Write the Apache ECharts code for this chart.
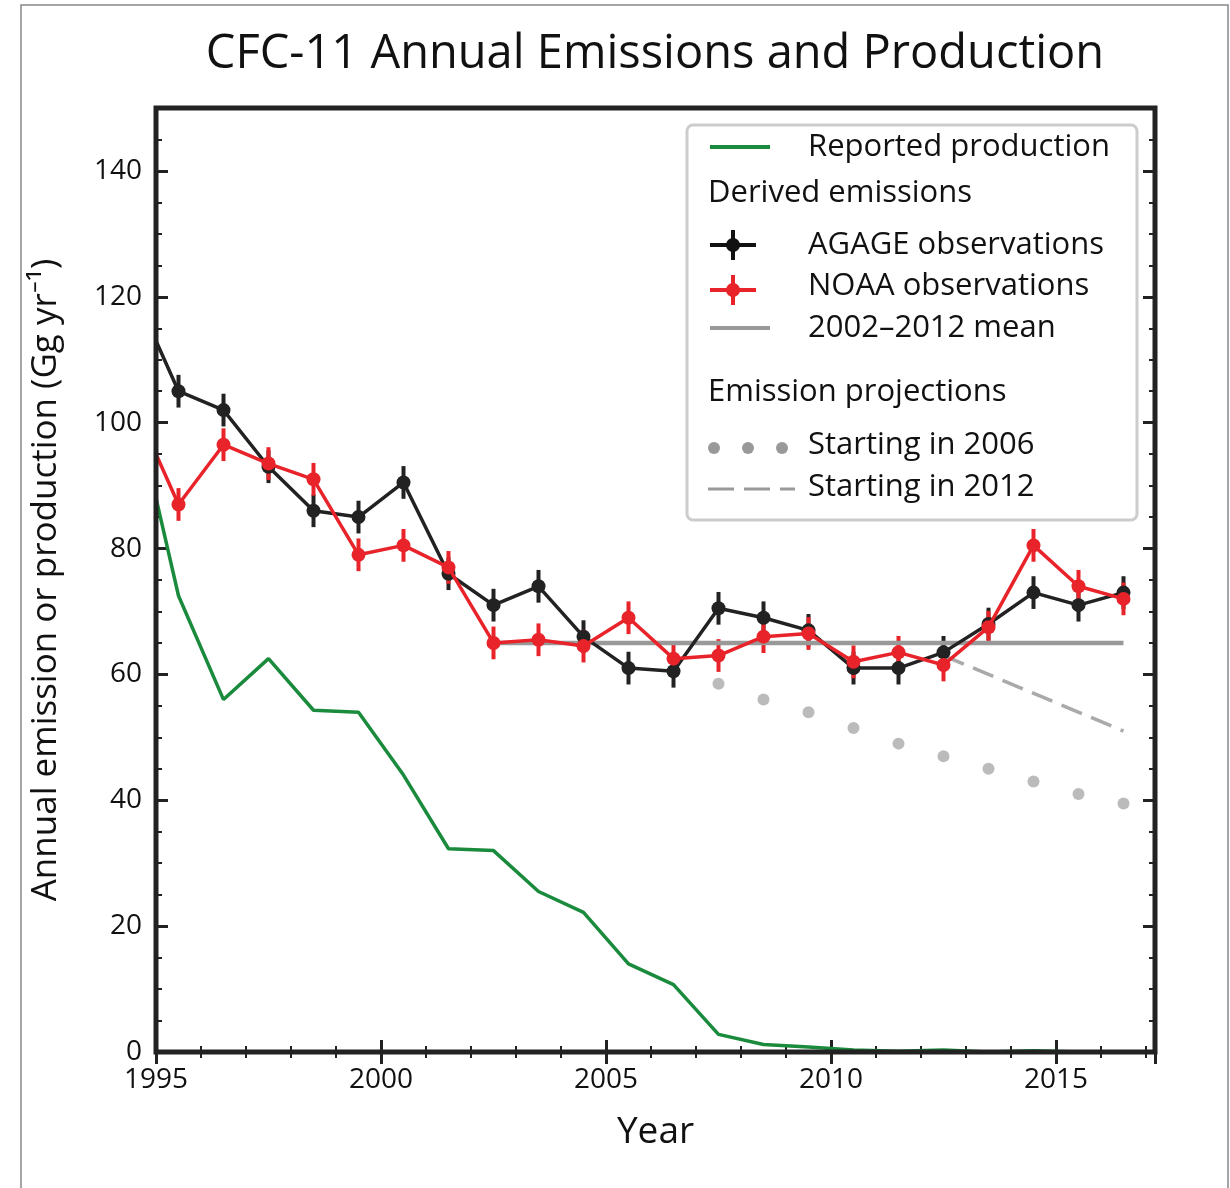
<!DOCTYPE html>
<html><head><meta charset="utf-8">
<script src="https://cdn.jsdelivr.net/npm/echarts@6/dist/echarts.min.js"></script>
<style>html,body{margin:0;padding:0;background:#fff}#c{width:1230px;height:1188px}</style>
</head><body><div id="c"></div>
<script>
// 数据
const obsYears = [1994.5,1995.5,1996.5,1997.5,1998.5,1999.5,2000.5,2001.5,2002.5,2003.5,2004.5,2005.5,2006.5,2007.5,2008.5,2009.5,2010.5,2011.5,2012.5,2013.5,2014.5,2015.5,2016.5];
const agage = [121,105,102,93,86,85,90.5,76,71,74,66,61,60.5,70.5,69,67,61,61,63.5,68,73,71,73];
const noaa  = [103,87,96.5,93.5,91,79,80.5,77,65,65.5,64.5,69,62.5,63,66,66.5,62,63.5,61.5,67.5,80.5,74,72];
const errBar = 2.6;
const prodYears = [1995,1995.5,1996.5,1997.5,1998.5,1999.5,2000.5,2001.5,2002.5,2003.5,2004.5,2005.5,2006.5,2007.5,2008.5,2009.5,2010.5,2011.5,2012.5,2013.5,2014.5,2015.5];
const production = [88,72.5,56,62.5,54.3,54,44,32.3,32,25.5,22.2,14,10.7,2.8,1.2,0.8,0.3,0.1,0.3,0,0.2,0];
const meanYears = [2002.5,2016.5];
const meanValue = 65;
const proj2006Years = [2007.5,2008.5,2009.5,2010.5,2011.5,2012.5,2013.5,2014.5,2015.5,2016.5];
const proj2006 = [58.5,56,54,51.5,49,47,45,43,41,39.5];
const proj2012Years = [2012.5,2016.5];
const proj2012 = [63,51];

const zip = (xs, ys) => xs.map((x, i) => [x, ys[i]]);
const font = 'Open Sans';

function errSeries(data, color){
  return {
    type: 'custom', data: data, z: 3, clip: true,
    renderItem: (params, api) => {
      const top = api.coord([api.value(0), api.value(1) + errBar]);
      const bot = api.coord([api.value(0), api.value(1) - errBar]);
      return { type: 'line', shape: { x1: top[0], y1: top[1], x2: bot[0], y2: bot[1] }, style: { stroke: color, lineWidth: 4 } };
    }
  };
}

const chart = echarts.init(document.getElementById('c'));
const baseAxis = { axisLine: { show: false }, splitLine: { show: false },
  axisTick: { inside: true, length: 12, lineStyle: { color: '#222', width: 3 } },
  minorTick: { show: true, length: 6, lineStyle: { color: '#222', width: 2 } } };

// 图例（图形元素）
const lx = 687, ly = 125;
const legend = [
  { type: 'rect', shape: { x: lx, y: ly, width: 450, height: 395, r: 6 }, style: { fill: '#fff', stroke: '#ccc', lineWidth: 3 } },
  { type: 'line', shape: { x1: 710, y1: 147, x2: 770, y2: 147 }, style: { stroke: '#1a8a3c', lineWidth: 4 } },
  { type: 'text', x: 808, y: 147, style: { text: 'Reported production', font: '31px ' + font, fill: '#111', verticalAlign: 'middle' } },
  { type: 'text', x: 708, y: 193, style: { text: 'Derived emissions', font: '31px ' + font, fill: '#111', verticalAlign: 'middle' } },
  { type: 'line', shape: { x1: 710, y1: 245, x2: 756, y2: 245 }, style: { stroke: '#111', lineWidth: 4 } },
  { type: 'line', shape: { x1: 733, y1: 230, x2: 733, y2: 260 }, style: { stroke: '#111', lineWidth: 4 } },
  { type: 'circle', shape: { cx: 733, cy: 245, r: 7 }, style: { fill: '#111' } },
  { type: 'text', x: 808, y: 245, style: { text: 'AGAGE observations', font: '31px ' + font, fill: '#111', verticalAlign: 'middle' } },
  { type: 'line', shape: { x1: 710, y1: 290, x2: 756, y2: 290 }, style: { stroke: '#e8232a', lineWidth: 4 } },
  { type: 'line', shape: { x1: 733, y1: 275, x2: 733, y2: 305 }, style: { stroke: '#e8232a', lineWidth: 4 } },
  { type: 'circle', shape: { cx: 733, cy: 290, r: 7 }, style: { fill: '#e8232a' } },
  { type: 'text', x: 808, y: 286, style: { text: 'NOAA observations', font: '31px ' + font, fill: '#111', verticalAlign: 'middle' } },
  { type: 'line', shape: { x1: 710, y1: 328, x2: 770, y2: 328 }, style: { stroke: '#999', lineWidth: 4 } },
  { type: 'text', x: 808, y: 328, style: { text: '2002–2012 mean', font: '31px ' + font, fill: '#111', verticalAlign: 'middle' } },
  { type: 'text', x: 708, y: 392, style: { text: 'Emission projections', font: '31px ' + font, fill: '#111', verticalAlign: 'middle' } },
  { type: 'circle', shape: { cx: 714, cy: 448, r: 6 }, style: { fill: '#999' } },
  { type: 'circle', shape: { cx: 748, cy: 448, r: 6 }, style: { fill: '#999' } },
  { type: 'circle', shape: { cx: 782, cy: 448, r: 6 }, style: { fill: '#999' } },
  { type: 'text', x: 808, y: 445, style: { text: 'Starting in 2006', font: '31px ' + font, fill: '#111', verticalAlign: 'middle' } },
  { type: 'line', shape: { x1: 708, y1: 489, x2: 795, y2: 489 }, style: { stroke: '#999', lineWidth: 3, lineDash: [26, 10] } },
  { type: 'text', x: 808, y: 487, style: { text: 'Starting in 2012', font: '31px ' + font, fill: '#111', verticalAlign: 'middle' } },
  // 外框
  { type: 'polyline', shape: { points: [[21, 1188], [21, 5], [1228, 5], [1228, 1188]] }, style: { stroke: '#888', lineWidth: 1.5, fill: null } },
  // 坐标区边框
  { type: 'rect', shape: { x: 156, y: 108, width: 999, height: 944 }, style: { fill: null, stroke: '#222', lineWidth: 5 }, z: 10 }
];

const option = {
  animation: false,
  title: { text: 'CFC-11 Annual Emissions and Production', left: 650, top: 26, textAlign: 'center',
    textStyle: { fontFamily: font, fontSize: 47, fontWeight: 'normal', color: '#111' } },
  grid: { left: 156, right: 75, top: 108, bottom: 136 },
  xAxis: [
    Object.assign({}, baseAxis, { type: 'value', min: 1995, max: 2017.2, interval: 5, minorSplitLine: { show: false },
      minorTick: Object.assign({}, baseAxis.minorTick, { splitNumber: 5 }),
      name: 'Year', nameLocation: 'middle', nameGap: 62, nameTextStyle: { fontFamily: font, fontSize: 37, color: '#111' },
      axisLabel: { fontFamily: font, fontSize: 28, color: '#111', margin: 14, showMaxLabel: false, formatter: v => String(v) } }),
    Object.assign({}, baseAxis, { type: 'value', position: 'top', min: 1995, max: 2017.2, interval: 5,
      minorTick: Object.assign({}, baseAxis.minorTick, { splitNumber: 5 }), axisLabel: { show: false } })
  ],
  yAxis: [
    Object.assign({}, baseAxis, { type: 'value', min: 0, max: 150, interval: 20,
      minorTick: Object.assign({}, baseAxis.minorTick, { splitNumber: 4 }),
      name: 'Annual emission or production (Gg yr⁻¹)', nameLocation: 'middle', nameGap: 92,
      nameTextStyle: { fontFamily: font, fontSize: 35, color: '#111' },
      axisLabel: { fontFamily: font, fontSize: 28, color: '#111', margin: 14, showMaxLabel: false } }),
    Object.assign({}, baseAxis, { type: 'value', position: 'right', min: 0, max: 150, interval: 20,
      minorTick: Object.assign({}, baseAxis.minorTick, { splitNumber: 4 }), axisLabel: { show: false } })
  ],
  graphic: legend,
  series: [
    { type: 'line', data: zip(prodYears, production), symbol: 'none', lineStyle: { color: '#1a8a3c', width: 3.5 } },
    { type: 'line', data: zip(meanYears, [meanValue, meanValue]), symbol: 'none', lineStyle: { color: '#999', width: 4.5 } },
    { type: 'scatter', data: zip(proj2006Years, proj2006), symbolSize: 12, itemStyle: { color: '#aaa' } },
    { type: 'line', data: zip(proj2012Years, proj2012), symbol: 'none', lineStyle: { color: '#aaa', width: 3.5, type: [22, 10] } },
    { type: 'line', data: zip(obsYears, agage), symbol: 'circle', symbolSize: 14, z: 4,
      lineStyle: { color: '#222', width: 3.5 }, itemStyle: { color: '#222' } },
    errSeries(zip(obsYears, agage), '#222'),
    { type: 'line', data: zip(obsYears, noaa), symbol: 'circle', symbolSize: 14, z: 5,
      lineStyle: { color: '#e8232a', width: 3.5 }, itemStyle: { color: '#e8232a' } },
    errSeries(zip(obsYears, noaa), '#e8232a')
  ]
};
chart.setOption(option);
</script>
</body></html>
